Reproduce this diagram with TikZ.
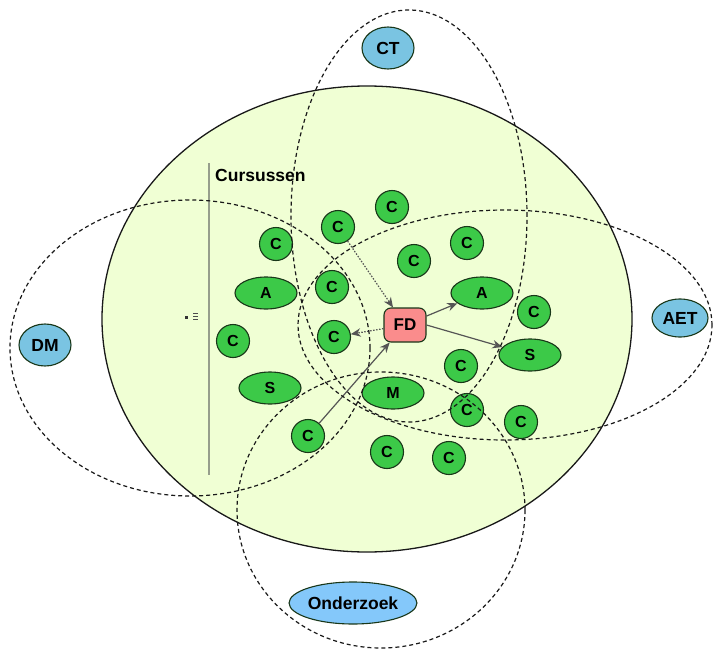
\documentclass[tikz,border=0pt]{standalone}
\usepackage{fontspec}
\setmainfont{Liberation Sans}
\usetikzlibrary{shapes.geometric,arrows.meta}
\definecolor{bigfill}{RGB}{240,255,212}
\definecolor{nodegreen}{RGB}{60,201,72}
\definecolor{nodeline}{RGB}{25,55,25}
\definecolor{bluefill}{RGB}{122,196,226}
\definecolor{bluefillb}{RGB}{132,200,250}
\definecolor{fdfill}{RGB}{250,140,140}
\definecolor{linegray}{RGB}{85,85,85}
\definecolor{vgray}{RGB}{150,158,140}
\begin{document}
\begin{tikzpicture}[x=1pt,y=-1pt,
  zone/.style={ellipse, draw=black!90, dash pattern=on 4pt off 3pt, line width=1.2pt, inner sep=0pt},
  cnode/.style={circle, fill=nodegreen, draw=nodeline, line width=1.1pt, minimum size=33pt, inner sep=0pt, font=\fontsize{16}{16}\selectfont\bfseries},
  enode/.style={ellipse, fill=nodegreen, draw=nodeline, line width=1.1pt, minimum width=62pt, minimum height=32pt, inner sep=0pt, font=\fontsize{16}{16}\selectfont\bfseries},
  bnode/.style={ellipse, fill=bluefill, draw=nodeline, line width=1.1pt, inner sep=0pt, font=\fontsize{17.5}{18}\selectfont\bfseries},
  conn/.style={draw=linegray, line width=1.2pt, -{Stealth[length=10pt,width=8.5pt]}},
  dotconn/.style={conn, dash pattern=on 1.5pt off 1.5pt},
]
\useasboundingbox (0,0) rectangle (713,651);
% big course ellipse
\node[ellipse, fill=bigfill, draw=black!90, line width=1.3pt, minimum width=530pt, minimum height=466pt, inner sep=0pt] (cursus) at (367,319) {};
\coordinate (vt) at (209,163);
\coordinate (vb) at (209,475);
\draw[vgray, line width=1.5pt] (vt) -- (vb);
\node[anchor=west, inner sep=0pt, font=\fontsize{17.5}{18}\selectfont\bfseries] (title) at (215,175) {Cursussen};
% small icon
\fill[black!80] (185,315.5) rectangle (188,318.5);
\foreach \yy in {313.5,316.5,319.5} \draw[black!70, line width=1pt] (193,\yy) -- (198,\yy);

% nodes
\node[cnode] (c1) at (338,227) {C};
\node[cnode] (c2) at (392,207) {C};
\node[cnode] (c3) at (276,244) {C};
\node[cnode] (c4) at (414,261) {C};
\node[cnode] (c5) at (467,243) {C};
\node[cnode] (c6) at (332,287) {C};
\node[cnode] (c7) at (233,341) {C};
\node[cnode] (c8) at (334,337) {C};
\node[cnode] (c9) at (534,312) {C};
\node[cnode] (c10) at (461,366) {C};
\node[cnode] (c11) at (467,410) {C};
\node[cnode] (c12) at (521,422) {C};
\node[cnode] (c13) at (308,436) {C};
\node[cnode] (c14) at (387,452) {C};
\node[cnode] (c15) at (449,458) {C};
\node[enode] (a1) at (266,293) {A};
\node[enode] (a2) at (482,293) {A};
\node[enode] (s1) at (270,388) {S};
\node[enode] (s2) at (530,355) {S};
\node[enode] (m) at (393,393) {M};
\node[rectangle, rounded corners=7pt, fill=fdfill, draw=nodeline, line width=1.1pt, minimum width=42pt, minimum height=34pt, inner sep=0pt, font=\fontsize{17}{17}\selectfont\bfseries] (fd) at (405,325) {FD};

% connectors
\draw[dotconn] (c1) -- (fd);
\draw[dotconn] (fd) -- (c8);
\draw[conn] (fd) -- (a2);
\draw[conn] (fd.east) -- (s2);
\draw[conn] (c13) -- (fd);

% dashed zones
\node[zone, minimum width=236pt, minimum height=412pt] (ctzone) at (409,216) {};
\node[zone, minimum width=360pt, minimum height=296pt] (dmzone) at (190,348) {};
\node[zone, minimum width=414pt, minimum height=230pt] (aetzone) at (505,325) {};
\node[zone, minimum width=288pt, minimum height=276pt] (ozzone) at (381,510) {};

% outer labels
\node[bnode, minimum width=52pt, minimum height=42pt] (ct) at (388,48) {CT};
\node[bnode, minimum width=52pt, minimum height=42pt] (dm) at (45,345) {DM};
\node[bnode, minimum width=56pt, minimum height=38pt] (aet) at (680,318) {AET};
\node[bnode, fill=bluefillb, minimum width=120pt, minimum height=42pt] (oz) at (353,603) {Onderzoek};
\end{tikzpicture}
\end{document}
